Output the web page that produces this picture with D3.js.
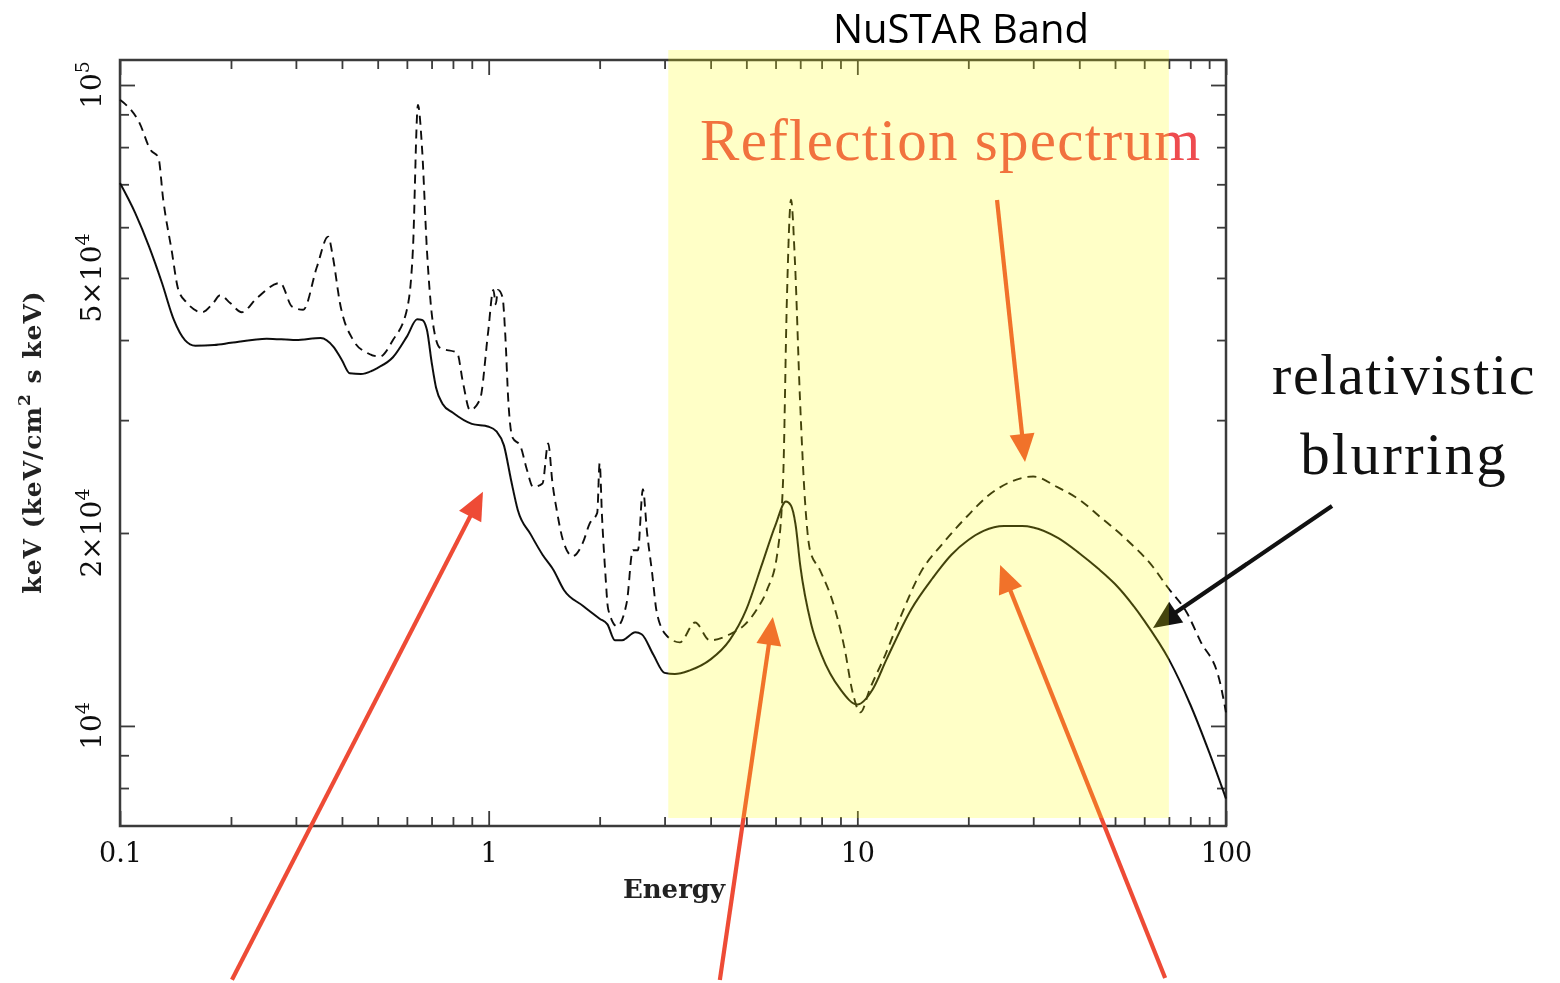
<!DOCTYPE html>
<html>
<head>
<meta charset="utf-8">
<script src="https://cdn.jsdelivr.net/npm/d3@7"></script>
<style>
  html, body { margin: 0; padding: 0; background: #ffffff; }
  svg { display: block; }
</style>
</head>
<body>
<svg id="chart" width="1560" height="983"></svg>
<script>
// Reflection model spectra, E (keV) vs keV (keV/cm^2 s keV)
// Solid: relativistically blurred reflection
const solidEnergy = [
  0.1, 0.11, 0.12, 0.13, 0.14, 0.15, 0.16, 0.18, 0.2, 0.25,
  0.3, 0.35, 0.38, 0.4, 0.42, 0.45, 0.5, 0.55, 0.6, 0.64,
  0.66, 0.68, 0.7, 0.72, 0.75, 0.8, 0.9, 1.0, 1.05, 1.1,
  1.15, 1.2, 1.3, 1.4, 1.5, 1.6, 1.8, 2.0, 2.1, 2.2,
  2.3, 2.5, 2.6, 2.8, 3.0, 3.2, 3.5, 4, 4.5, 5,
  5.5, 6, 6.4, 6.6, 6.8, 7, 7.5, 8, 9, 10,
  11, 12, 14, 16, 18, 20, 22, 25, 28, 30,
  35, 40, 45, 50, 60, 70, 80, 90, 100
];
const solidFlux = [
  70300, 63100, 55900, 49100, 43000, 40000, 39200, 39300, 39600, 40200,
  40000, 40300, 39000, 37200, 35500, 35400, 36200, 37600, 40500, 43100,
  43000, 41500, 37000, 33700, 31800, 30800, 29600, 29300, 28800, 27400,
  24200, 21700, 19900, 18500, 17500, 16300, 15400, 14700, 14400, 13600,
  13600, 14000, 13900, 12900, 12100, 12050, 12200, 12700, 13600, 15200,
  17800, 20600, 22400, 22100, 20600, 17800, 14400, 12900, 11400, 10800,
  11400, 12700, 15200, 17000, 18500, 19500, 20150, 20500, 20500, 20400,
  19650, 18600, 17600, 16650, 14600, 12700, 10800, 9100, 7700
];

// Dashed: unblurred reflection with narrow emission lines
const dashedEnergy = [
  0.1, 0.113, 0.121, 0.127, 0.131, 0.138, 0.144, 0.152, 0.167, 0.179,
  0.187, 0.199, 0.214, 0.235, 0.272, 0.293, 0.314, 0.342, 0.367, 0.378,
  0.395, 0.429, 0.468, 0.507, 0.55, 0.6, 0.623, 0.643, 0.66, 0.68,
  0.706, 0.738, 0.821, 0.852, 0.89, 0.947, 0.996, 1.03, 1.045, 1.06, 1.09,
  1.11, 1.13, 1.16, 1.22, 1.27, 1.32, 1.40, 1.45, 1.49, 1.53,
  1.59, 1.69, 1.80, 1.88, 1.97, 2.00, 2.03, 2.07, 2.11, 2.23,
  2.37, 2.46, 2.54, 2.62, 2.69, 2.77, 2.86, 3.05, 3.30, 3.63,
  3.98, 4.51, 4.96, 5.34, 5.69, 6.06, 6.29, 6.44, 6.61, 6.77,
  6.99, 7.21, 7.44, 7.92, 8.70, 9.26, 9.67, 10.2, 10.8, 11.9,
  13.1, 14.8, 17.1, 19.8, 22.5, 25.9, 30.0, 34.8, 40.2, 45.5,
  53.9, 63.4, 69.2, 78.4, 85.0, 96.3, 100
];
const dashedFlux = [
  94800, 87200, 79200, 77200, 66200, 55300, 47900, 45700, 44200, 45700,
  47000, 45700, 44200, 46500, 49100, 45100, 44600, 52000, 58000, 53900,
  45700, 40000, 38200, 37700, 40000, 44600, 55300, 93100, 79200, 55300,
  42500, 38900, 38200, 34300, 31100, 32300, 41000, 47900, 45500, 47900, 46700,
  40500, 32300, 28200, 27300, 25100, 23600, 23900, 27600, 23900, 21700,
  19500, 18400, 19300, 20700, 21500, 25700, 21200, 17500, 15200, 14300,
  15600, 18800, 18800, 23400, 20000, 17500, 15000, 13800, 13500, 14500,
  13600, 13900, 14400, 15200, 16300, 18500, 24200, 46200, 66200, 53300,
  32300, 22500, 18800, 17500, 15200, 13100, 11400, 10500, 11400, 12900,
  14800, 17300, 19300, 21200, 22800, 24000, 24500, 23600, 22500, 21200,
  19500, 17700, 16500, 15000, 13600, 11700, 10500
];

// Axis ticks and labels
const xMajorTicks = [0.1, 1, 10, 100];
const xTickLabels = ["0.1", "1", "10", "100"];
const xMinorTicks = [0.2, 0.3, 0.4, 0.5, 0.6, 0.7, 0.8, 0.9,
                     2, 3, 4, 5, 6, 7, 8, 9,
                     20, 30, 40, 50, 60, 70, 80, 90];
const yMajorTicks = [1e4, 1e5];
const yMinorTicks = [8000, 9000, 2e4, 3e4, 4e4, 5e4, 6e4, 7e4, 8e4, 9e4];
const yLabelValues = [1e4, 2e4, 5e4, 1e5];
const yLabelMantissa = ["", "2\u00d7", "5\u00d7", ""];
const yLabelExponent = ["4", "4", "4", "5"];

// Instrument band (keV)
const nustarBand = [3.07, 70];

// Annotation arrows: tip in data units, tail offset in px
const arrowTipEnergy = [0.965, 5.9, 24.4, 28.5, 63.4];
const arrowTipFlux = [23200, 14790, 17830, 25810, 14220];
const arrowTailDx = [-251, -53, 165, -28, 179];
const arrowTailDy = [488, 363, 413, -262, -122];
const arrowColor = ["#ee4b36", "#ee4b36", "#ee4b36", "#ee4b36", "#111111"];

const svg = d3.select("#chart");
const defs = svg.append("defs");
defs.append("filter").attr("id", "soft")
  .append("feGaussianBlur").attr("stdDeviation", 0.5);

const x = d3.scaleLog().domain([0.1, 100]).range([120, 1226]);
const y = d3.scaleLog().domain([6980, 109400]).range([826, 60]);
const [x0, x1] = x.range();
const [y0, y1] = y.range();

const chart = svg.append("g").attr("filter", "url(#soft)");
const serif = "DejaVu Serif";
const axisColor = "#3a3a3a";

function styleAxis(g) {
  g.select(".domain").remove();
  g.selectAll(".tick line").attr("stroke", axisColor).attr("stroke-width", 1.8);
  g.selectAll("text").attr("font-family", serif).attr("font-size", 27).attr("fill", "#111");
}

// bottom axis with labels
chart.append("g").attr("transform", `translate(0,${y0})`)
  .call(d3.axisBottom(x).tickValues(xMajorTicks).tickSize(-15).tickPadding(17)
    .tickFormat((d, i) => xTickLabels[i]))
  .call(styleAxis);
chart.append("g").attr("transform", `translate(0,${y0})`)
  .call(d3.axisBottom(x).tickValues(xMinorTicks).tickSize(-9).tickFormat(""))
  .call(styleAxis);
// top axis
chart.append("g").attr("transform", `translate(0,${y1})`)
  .call(d3.axisTop(x).tickValues(xMajorTicks).tickSize(-15).tickFormat(""))
  .call(styleAxis);
chart.append("g").attr("transform", `translate(0,${y1})`)
  .call(d3.axisTop(x).tickValues(xMinorTicks).tickSize(-9).tickFormat(""))
  .call(styleAxis);
// left / right axes
chart.append("g").attr("transform", `translate(${x0},0)`)
  .call(d3.axisLeft(y).tickValues(yMajorTicks).tickSize(-15).tickFormat(""))
  .call(styleAxis);
chart.append("g").attr("transform", `translate(${x0},0)`)
  .call(d3.axisLeft(y).tickValues(yMinorTicks).tickSize(-9).tickFormat(""))
  .call(styleAxis);
chart.append("g").attr("transform", `translate(${x1},0)`)
  .call(d3.axisRight(y).tickValues(yMajorTicks).tickSize(-15).tickFormat(""))
  .call(styleAxis);
chart.append("g").attr("transform", `translate(${x1},0)`)
  .call(d3.axisRight(y).tickValues(yMinorTicks).tickSize(-9).tickFormat(""))
  .call(styleAxis);

// frame
chart.append("rect")
  .attr("x", x0).attr("y", y1).attr("width", x1 - x0).attr("height", y0 - y1)
  .attr("fill", "none").attr("stroke", axisColor).attr("stroke-width", 2.5);

// rotated y tick labels
yLabelValues.forEach((v, i) => {
  const t = chart.append("text")
    .attr("transform", `translate(101,${y(v)}) rotate(-90)`)
    .attr("text-anchor", "middle")
    .attr("font-family", serif).attr("font-size", 28).attr("fill", "#111");
  t.append("tspan").text(yLabelMantissa[i] + "10");
  t.append("tspan").attr("dy", -12).attr("font-size", 19).text(yLabelExponent[i]);
});

// axis titles
chart.append("text")
  .attr("x", (x0 + x1) / 2 + 1).attr("y", 898)
  .attr("text-anchor", "middle")
  .attr("font-family", serif).attr("font-size", 26).attr("font-weight", "bold")
  .attr("fill", "#222")
  .text("Energy");

const yTitle = chart.append("text")
  .attr("transform", `translate(41,442) rotate(-90)`)
  .attr("text-anchor", "middle")
  .attr("font-family", serif).attr("font-size", 25).attr("font-weight", "bold")
  .attr("letter-spacing", 1).attr("fill", "#222");
yTitle.append("tspan").text("keV (keV/cm");
yTitle.append("tspan").attr("dy", -11).attr("font-size", 17).text("2");
yTitle.append("tspan").attr("dy", 11).text(" s keV)");

// spectra
const line = d3.line()
  .x(d => x(d[0]))
  .y(d => y(d[1]))
  .curve(d3.curveMonotoneX);

chart.append("path")
  .datum(d3.zip(dashedEnergy, dashedFlux))
  .attr("d", line)
  .attr("fill", "none").attr("stroke", "#111").attr("stroke-width", 1.9)
  .attr("stroke-dasharray", "9,6");

chart.append("path")
  .datum(d3.zip(solidEnergy, solidFlux))
  .attr("d", line)
  .attr("fill", "none").attr("stroke", "#111").attr("stroke-width", 2);

// arrows
const arrows = svg.append("g");
arrowTipEnergy.forEach((e, i) => {
  const tx = x(e), ty = y(arrowTipFlux[i]);
  const sx = tx + arrowTailDx[i], sy = ty + arrowTailDy[i];
  const len = Math.hypot(tx - sx, ty - sy);
  const ux = (tx - sx) / len, uy = (ty - sy) / len;
  const headLen = 28, headHalf = 12.5;
  const bx = tx - ux * headLen, by = ty - uy * headLen;
  arrows.append("line")
    .attr("x1", sx).attr("y1", sy).attr("x2", bx + ux * 2).attr("y2", by + uy * 2)
    .attr("stroke", arrowColor[i]).attr("stroke-width", 4.2);
  arrows.append("path")
    .attr("d", `M${tx},${ty}L${bx - uy * headHalf},${by + ux * headHalf}L${bx + uy * headHalf},${by - ux * headHalf}Z`)
    .attr("fill", arrowColor[i]);
});

// annotation under the band tint
svg.append("text")
  .attr("x", 700).attr("y", 160)
  .attr("font-family", "Liberation Serif").attr("font-size", 59)
  .attr("letter-spacing", 1.3)
  .attr("fill", "#ee4b50")
  .text("Reflection spectrum");

// NuSTAR band tint
svg.append("rect")
  .attr("x", x(nustarBand[0])).attr("y", 50)
  .attr("width", x(nustarBand[1]) - x(nustarBand[0])).attr("height", 768)
  .attr("fill", "#ffff00").attr("fill-opacity", 0.22);

svg.append("text")
  .attr("x", 961).attr("y", 43)
  .attr("text-anchor", "middle")
  .attr("font-family", "Open Sans").attr("font-size", 40).attr("fill", "#000")
  .text("NuSTAR Band");

svg.append("text")
  .attr("x", 1404).attr("y", 394)
  .attr("text-anchor", "middle")
  .attr("font-family", "Liberation Serif").attr("font-size", 58)
  .attr("letter-spacing", 1.6).attr("fill", "#111")
  .text("relativistic");
svg.append("text")
  .attr("x", 1404).attr("y", 474)
  .attr("text-anchor", "middle")
  .attr("font-family", "Liberation Serif").attr("font-size", 59)
  .attr("letter-spacing", 2.2).attr("fill", "#111")
  .text("blurring");
</script>
</body>
</html>
